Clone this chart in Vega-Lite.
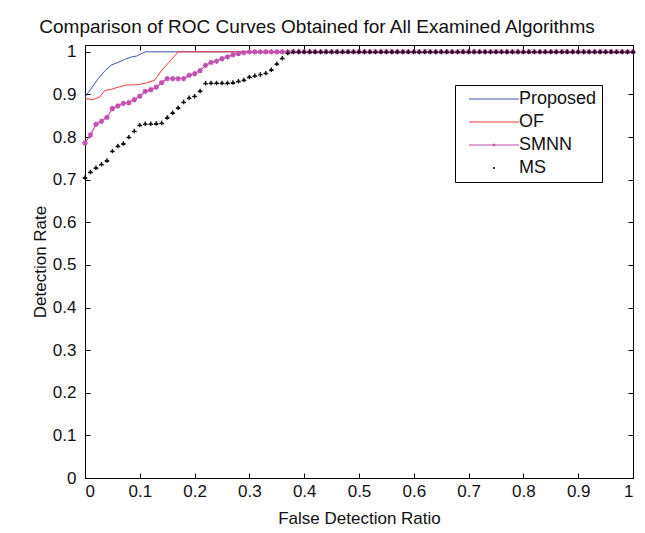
{
  "$schema": "https://vega.github.io/schema/vega-lite/v6.json",
  "autosize": {"type": "none"},
  "padding": {"left": 85, "top": 45, "right": 12, "bottom": 55},
  "width": 548,
  "height": 433,
  "background": "#ffffff",
  "title": {"text": "Comparison of ROC Curves Obtained for All Examined Algorithms", "font": "Liberation Sans", "fontSize": 19, "fontWeight": "normal", "color": "#111111", "anchor": "middle", "offset": 6, "dx": -42},
  "config": {
    "view": {"stroke": null},
    "axis": {"domainColor": "#000000", "domainWidth": 1, "tickColor": "#000000", "tickSize": -5, "labelFont": "Liberation Sans", "labelFontSize": 17, "labelColor": "#111111", "titleFont": "Liberation Sans", "titleFontSize": 17, "titleFontWeight": "normal", "titleColor": "#111111", "grid": false}
  },
  "data": {"values": [
    {"s":"Proposed","x":0,"y":0.894},{"s":"Proposed","x":0.012,"y":0.915},{"s":"Proposed","x":0.024,"y":0.937},{"s":"Proposed","x":0.036,"y":0.955},{"s":"Proposed","x":0.048,"y":0.969},{"s":"Proposed","x":0.06,"y":0.975},{"s":"Proposed","x":0.072,"y":0.982},{"s":"Proposed","x":0.085,"y":0.988},{"s":"Proposed","x":0.094,"y":0.99},{"s":"Proposed","x":0.11,"y":1},{"s":"Proposed","x":1,"y":1},
    {"s":"OF","x":0,"y":0.89},{"s":"OF","x":0.015,"y":0.888},{"s":"OF","x":0.027,"y":0.894},{"s":"OF","x":0.036,"y":0.909},{"s":"OF","x":0.048,"y":0.912},{"s":"OF","x":0.06,"y":0.917},{"s":"OF","x":0.075,"y":0.922},{"s":"OF","x":0.097,"y":0.923},{"s":"OF","x":0.112,"y":0.927},{"s":"OF","x":0.127,"y":0.933},{"s":"OF","x":0.139,"y":0.955},{"s":"OF","x":0.155,"y":0.978},{"s":"OF","x":0.17,"y":1},{"s":"OF","x":1,"y":1},
    {"s":"SMNN","x":0,"y":0.786},{"s":"SMNN","x":0.01,"y":0.805},{"s":"SMNN","x":0.02,"y":0.83},{"s":"SMNN","x":0.03,"y":0.837},{"s":"SMNN","x":0.04,"y":0.846},{"s":"SMNN","x":0.05,"y":0.867},{"s":"SMNN","x":0.06,"y":0.873},{"s":"SMNN","x":0.07,"y":0.879},{"s":"SMNN","x":0.08,"y":0.881},{"s":"SMNN","x":0.09,"y":0.888},
    {"s":"SMNN","x":0.1,"y":0.896},{"s":"SMNN","x":0.11,"y":0.907},{"s":"SMNN","x":0.12,"y":0.911},{"s":"SMNN","x":0.13,"y":0.917},{"s":"SMNN","x":0.14,"y":0.928},{"s":"SMNN","x":0.15,"y":0.937},{"s":"SMNN","x":0.16,"y":0.937},{"s":"SMNN","x":0.17,"y":0.937},{"s":"SMNN","x":0.18,"y":0.937},{"s":"SMNN","x":0.19,"y":0.945},
    {"s":"SMNN","x":0.2,"y":0.949},{"s":"SMNN","x":0.21,"y":0.956},{"s":"SMNN","x":0.22,"y":0.968},{"s":"SMNN","x":0.23,"y":0.975},{"s":"SMNN","x":0.24,"y":0.978},{"s":"SMNN","x":0.25,"y":0.984},{"s":"SMNN","x":0.26,"y":0.988},{"s":"SMNN","x":0.27,"y":0.993},{"s":"SMNN","x":0.28,"y":0.996},{"s":"SMNN","x":0.29,"y":0.998},
    {"s":"SMNN","x":0.3,"y":1},{"s":"SMNN","x":0.31,"y":1},{"s":"SMNN","x":0.32,"y":1},{"s":"SMNN","x":0.33,"y":1},{"s":"SMNN","x":0.34,"y":1},{"s":"SMNN","x":0.35,"y":1},{"s":"SMNN","x":0.36,"y":1},{"s":"SMNN","x":0.37,"y":1},{"s":"SMNN","x":0.38,"y":1},{"s":"SMNN","x":0.39,"y":1},
    {"s":"SMNN","x":0.4,"y":1},{"s":"SMNN","x":0.41,"y":1},{"s":"SMNN","x":0.42,"y":1},{"s":"SMNN","x":0.43,"y":1},{"s":"SMNN","x":0.44,"y":1},{"s":"SMNN","x":0.45,"y":1},{"s":"SMNN","x":0.46,"y":1},{"s":"SMNN","x":0.47,"y":1},{"s":"SMNN","x":0.48,"y":1},{"s":"SMNN","x":0.49,"y":1},
    {"s":"SMNN","x":0.5,"y":1},{"s":"SMNN","x":0.51,"y":1},{"s":"SMNN","x":0.52,"y":1},{"s":"SMNN","x":0.53,"y":1},{"s":"SMNN","x":0.54,"y":1},{"s":"SMNN","x":0.55,"y":1},{"s":"SMNN","x":0.56,"y":1},{"s":"SMNN","x":0.57,"y":1},{"s":"SMNN","x":0.58,"y":1},{"s":"SMNN","x":0.59,"y":1},
    {"s":"SMNN","x":0.6,"y":1},{"s":"SMNN","x":0.61,"y":1},{"s":"SMNN","x":0.62,"y":1},{"s":"SMNN","x":0.63,"y":1},{"s":"SMNN","x":0.64,"y":1},{"s":"SMNN","x":0.65,"y":1},{"s":"SMNN","x":0.66,"y":1},{"s":"SMNN","x":0.67,"y":1},{"s":"SMNN","x":0.68,"y":1},{"s":"SMNN","x":0.69,"y":1},
    {"s":"SMNN","x":0.7,"y":1},{"s":"SMNN","x":0.71,"y":1},{"s":"SMNN","x":0.72,"y":1},{"s":"SMNN","x":0.73,"y":1},{"s":"SMNN","x":0.74,"y":1},{"s":"SMNN","x":0.75,"y":1},{"s":"SMNN","x":0.76,"y":1},{"s":"SMNN","x":0.77,"y":1},{"s":"SMNN","x":0.78,"y":1},{"s":"SMNN","x":0.79,"y":1},
    {"s":"SMNN","x":0.8,"y":1},{"s":"SMNN","x":0.81,"y":1},{"s":"SMNN","x":0.82,"y":1},{"s":"SMNN","x":0.83,"y":1},{"s":"SMNN","x":0.84,"y":1},{"s":"SMNN","x":0.85,"y":1},{"s":"SMNN","x":0.86,"y":1},{"s":"SMNN","x":0.87,"y":1},{"s":"SMNN","x":0.88,"y":1},{"s":"SMNN","x":0.89,"y":1},
    {"s":"SMNN","x":0.9,"y":1},{"s":"SMNN","x":0.91,"y":1},{"s":"SMNN","x":0.92,"y":1},{"s":"SMNN","x":0.93,"y":1},{"s":"SMNN","x":0.94,"y":1},{"s":"SMNN","x":0.95,"y":1},{"s":"SMNN","x":0.96,"y":1},{"s":"SMNN","x":0.97,"y":1},{"s":"SMNN","x":0.98,"y":1},{"s":"SMNN","x":0.99,"y":1},{"s":"SMNN","x":1,"y":1},
    {"s":"MS","x":0,"y":0.705},{"s":"MS","x":0.01,"y":0.718},{"s":"MS","x":0.02,"y":0.728},{"s":"MS","x":0.03,"y":0.736},{"s":"MS","x":0.04,"y":0.745},{"s":"MS","x":0.05,"y":0.767},{"s":"MS","x":0.06,"y":0.779},{"s":"MS","x":0.07,"y":0.785},{"s":"MS","x":0.08,"y":0.8},{"s":"MS","x":0.09,"y":0.814},
    {"s":"MS","x":0.1,"y":0.828},{"s":"MS","x":0.11,"y":0.831},{"s":"MS","x":0.12,"y":0.831},{"s":"MS","x":0.13,"y":0.832},{"s":"MS","x":0.14,"y":0.833},{"s":"MS","x":0.15,"y":0.846},{"s":"MS","x":0.16,"y":0.857},{"s":"MS","x":0.17,"y":0.869},{"s":"MS","x":0.18,"y":0.882},{"s":"MS","x":0.19,"y":0.892},
    {"s":"MS","x":0.2,"y":0.896},{"s":"MS","x":0.21,"y":0.908},{"s":"MS","x":0.22,"y":0.926},{"s":"MS","x":0.23,"y":0.927},{"s":"MS","x":0.24,"y":0.927},{"s":"MS","x":0.25,"y":0.927},{"s":"MS","x":0.26,"y":0.927},{"s":"MS","x":0.27,"y":0.928},{"s":"MS","x":0.28,"y":0.931},{"s":"MS","x":0.29,"y":0.934},
    {"s":"MS","x":0.3,"y":0.941},{"s":"MS","x":0.31,"y":0.944},{"s":"MS","x":0.32,"y":0.947},{"s":"MS","x":0.33,"y":0.95},{"s":"MS","x":0.34,"y":0.958},{"s":"MS","x":0.35,"y":0.972},{"s":"MS","x":0.36,"y":0.985},{"s":"MS","x":0.37,"y":0.997},{"s":"MS","x":0.38,"y":1},{"s":"MS","x":0.39,"y":1},
    {"s":"MS","x":0.4,"y":1},{"s":"MS","x":0.41,"y":1},{"s":"MS","x":0.42,"y":1},{"s":"MS","x":0.43,"y":1},{"s":"MS","x":0.44,"y":1},{"s":"MS","x":0.45,"y":1},{"s":"MS","x":0.46,"y":1},{"s":"MS","x":0.47,"y":1},{"s":"MS","x":0.48,"y":1},{"s":"MS","x":0.49,"y":1},
    {"s":"MS","x":0.5,"y":1},{"s":"MS","x":0.51,"y":1},{"s":"MS","x":0.52,"y":1},{"s":"MS","x":0.53,"y":1},{"s":"MS","x":0.54,"y":1},{"s":"MS","x":0.55,"y":1},{"s":"MS","x":0.56,"y":1},{"s":"MS","x":0.57,"y":1},{"s":"MS","x":0.58,"y":1},{"s":"MS","x":0.59,"y":1},
    {"s":"MS","x":0.6,"y":1},{"s":"MS","x":0.61,"y":1},{"s":"MS","x":0.62,"y":1},{"s":"MS","x":0.63,"y":1},{"s":"MS","x":0.64,"y":1},{"s":"MS","x":0.65,"y":1},{"s":"MS","x":0.66,"y":1},{"s":"MS","x":0.67,"y":1},{"s":"MS","x":0.68,"y":1},{"s":"MS","x":0.69,"y":1},
    {"s":"MS","x":0.7,"y":1},{"s":"MS","x":0.71,"y":1},{"s":"MS","x":0.72,"y":1},{"s":"MS","x":0.73,"y":1},{"s":"MS","x":0.74,"y":1},{"s":"MS","x":0.75,"y":1},{"s":"MS","x":0.76,"y":1},{"s":"MS","x":0.77,"y":1},{"s":"MS","x":0.78,"y":1},{"s":"MS","x":0.79,"y":1},
    {"s":"MS","x":0.8,"y":1},{"s":"MS","x":0.81,"y":1},{"s":"MS","x":0.82,"y":1},{"s":"MS","x":0.83,"y":1},{"s":"MS","x":0.84,"y":1},{"s":"MS","x":0.85,"y":1},{"s":"MS","x":0.86,"y":1},{"s":"MS","x":0.87,"y":1},{"s":"MS","x":0.88,"y":1},{"s":"MS","x":0.89,"y":1},
    {"s":"MS","x":0.9,"y":1},{"s":"MS","x":0.91,"y":1},{"s":"MS","x":0.92,"y":1},{"s":"MS","x":0.93,"y":1},{"s":"MS","x":0.94,"y":1},{"s":"MS","x":0.95,"y":1},{"s":"MS","x":0.96,"y":1},{"s":"MS","x":0.97,"y":1},{"s":"MS","x":0.98,"y":1},{"s":"MS","x":0.99,"y":1},{"s":"MS","x":1,"y":1}
  ]},
  "resolve": {"axis": {"x": "independent", "y": "independent"}},
  "layer": [
    {
      "transform": [{"filter": "datum.s === 'Proposed'"}],
      "mark": {"type": "line", "color": "#3a55b4", "strokeWidth": 1},
      "encoding": {
        "x": {"field": "x", "type": "quantitative", "scale": {"domain": [0, 1], "nice": false, "zero": false},
              "axis": {"orient": "bottom", "values": [0, 0.1, 0.2, 0.3, 0.4, 0.5, 0.6, 0.7, 0.8, 0.9, 1], "format": "~g", "title": "False Detection Ratio", "labelPadding": 10, "titlePadding": 11}},
        "y": {"field": "y", "type": "quantitative", "scale": {"domain": [0, 1.016], "nice": false, "zero": false},
              "axis": {"orient": "left", "values": [0, 0.1, 0.2, 0.3, 0.4, 0.5, 0.6, 0.7, 0.8, 0.9, 1], "format": "~g", "title": "Detection Rate", "labelPadding": 14, "titlePadding": 3}}
      }
    },
    {
      "transform": [{"filter": "datum.s === 'OF'"}],
      "mark": {"type": "line", "color": "#f03a3a", "strokeWidth": 1},
      "encoding": {
        "x": {"field": "x", "type": "quantitative", "axis": null},
        "y": {"field": "y", "type": "quantitative", "axis": null}
      }
    },
    {
      "transform": [{"filter": "datum.s === 'SMNN'"}],
      "mark": {"type": "line", "color": "#c14fae", "strokeWidth": 1.2},
      "encoding": {
        "x": {"field": "x", "type": "quantitative", "axis": null},
        "y": {"field": "y", "type": "quantitative", "axis": null}
      }
    },
    {
      "transform": [{"filter": "datum.s === 'SMNN'"}],
      "mark": {"type": "point", "filled": false, "color": "#c14fae", "strokeWidth": 1.3, "opacity": 1, "size": 30, "shape": "M-1,0L1,0M0,-1L0,1M-0.7,-0.7L0.7,0.7M-0.7,0.7L0.7,-0.7"},
      "encoding": {
        "x": {"field": "x", "type": "quantitative", "axis": null},
        "y": {"field": "y", "type": "quantitative", "axis": null}
      }
    },
    {
      "transform": [{"filter": "datum.s === 'MS'"}],
      "mark": {"type": "point", "filled": false, "color": "#111111", "strokeWidth": 1.4, "opacity": 1, "size": 20, "shape": "M0,-1L0,1M-1,0.4L0,-0.3L1,0.4"},
      "encoding": {
        "x": {"field": "x", "type": "quantitative", "axis": null},
        "y": {"field": "y", "type": "quantitative", "axis": null}
      }
    },
    {
      "transform": [{"filter": "datum.x === 0"}],
      "mark": {"type": "point", "filled": false, "opacity": 0, "strokeWidth": 1},
      "encoding": {
        "x": {"field": "x", "type": "quantitative", "axis": {"orient": "top", "values": [0, 0.1, 0.2, 0.3, 0.4, 0.5, 0.6, 0.7, 0.8, 0.9, 1], "labels": false, "title": null}},
        "y": {"field": "y", "type": "quantitative", "axis": {"orient": "right", "values": [0, 0.1, 0.2, 0.3, 0.4, 0.5, 0.6, 0.7, 0.8, 0.9, 1], "labels": false, "title": null}},
        "color": {"field": "s", "type": "nominal",
                  "scale": {"domain": ["Proposed", "OF", "SMNN", "MS"], "range": ["#3a55b4", "#f03a3a", "#c14fae", "#111111"]},
                  "legend": {"orient": "none", "legendX": 370, "legendY": 40, "title": null, "strokeColor": "#000000", "fillColor": "#ffffff", "padding": 5, "symbolOffset": 25, "labelOffset": 16, "labelFont": "Liberation Sans", "labelFontSize": 18, "labelColor": "#111111", "rowPadding": 5, "symbolSize": 100, "symbolStrokeWidth": 1.2, "symbolOpacity": 1}},
        "shape": {"field": "s", "type": "nominal",
                  "scale": {"domain": ["Proposed", "OF", "SMNN", "MS"], "range": ["M-5,0L5,0", "M-5,0L5,0", "M-5,0L5,0M-0.2,-0.2L0.2,0.2M-0.2,0.2L0.2,-0.2", "M-0.2,0L0.2,0M0,-0.2L0,0.2"]}}
      }
    }
  ]
}
